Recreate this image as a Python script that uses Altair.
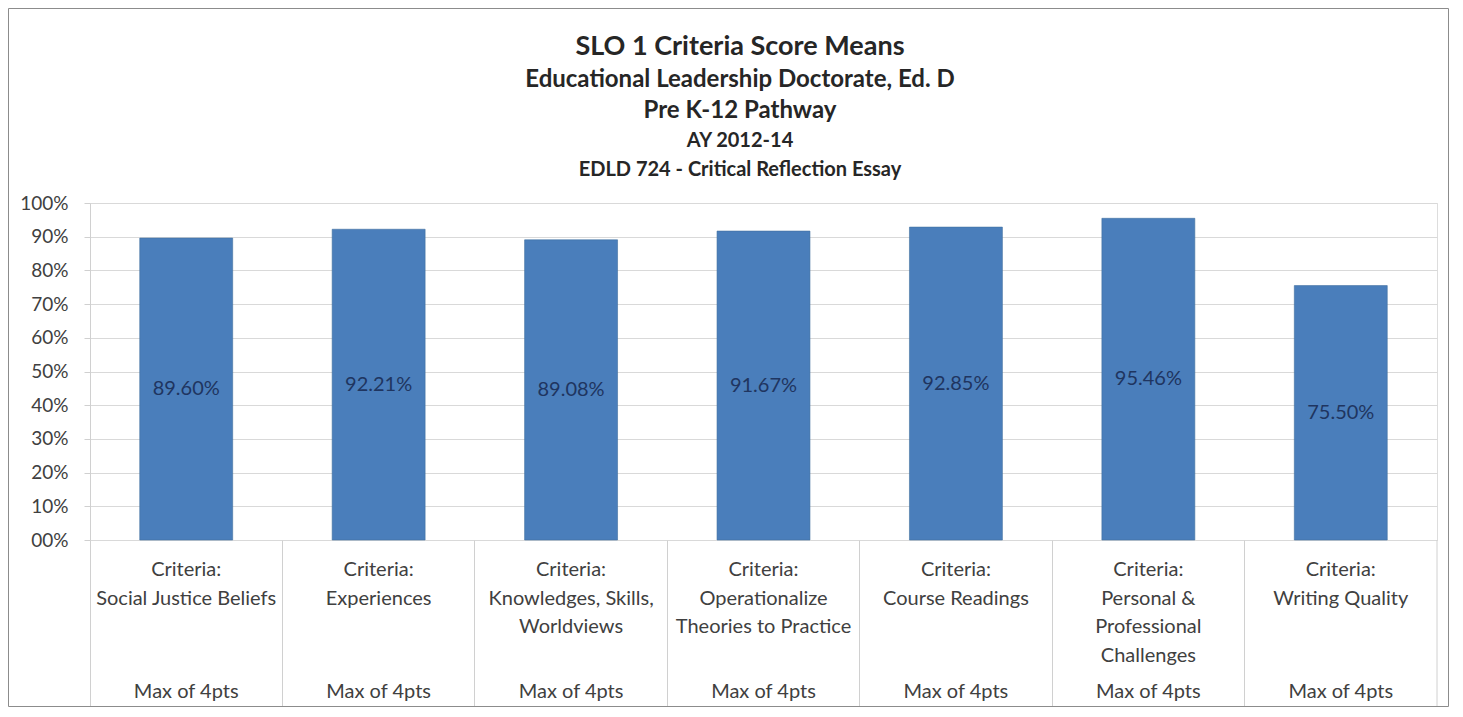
import altair as alt
import pandas as pd

categories = ["Social Justice Beliefs", "Experiences", "Knowledges, Skills, Worldviews",
              "Operationalize Theories to Practice", "Course Readings",
              "Personal & Professional Challenges", "Writing Quality"]
label_lines = [
    "Criteria:\nSocial Justice Beliefs",
    "Criteria:\nExperiences",
    "Criteria:\nKnowledges, Skills,\nWorldviews",
    "Criteria:\nOperationalize\nTheories to Practice",
    "Criteria:\nCourse Readings",
    "Criteria:\nPersonal &\nProfessional\nChallenges",
    "Criteria:\nWriting Quality",
]
max_label = ["Max of 4pts"] * 7
values = [0.8960, 0.9221, 0.8908, 0.9167, 0.9285, 0.9546, 0.7550]
y_ticks = [0, 0.1, 0.2, 0.3, 0.4, 0.5, 0.6, 0.7, 0.8, 0.9, 1.0]

title_lines = ["SLO 1 Criteria Score Means",
               "Educational Leadership Doctorate, Ed. D",
               "Pre K-12 Pathway",
               "AY 2012-14",
               "EDLD 724 - Critical Reflection Essay"]
title_sizes = [27, 24, 24, 20, 20]

df = pd.DataFrame({"cat": categories, "label": label_lines, "maxl": max_label, "value": values})

FONT = "Lato"
W, H = 1347, 337
BOTTOM = 167

y_axis = alt.Axis(values=y_ticks,
                  labelExpr="datum.value == 0 ? '00%' : format(datum.value, '.0%')",
                  labelOverlap=False, labelFont=FONT, labelFontSize=19, labelColor="#404040",
                  labelPadding=16, tickSize=6, tickColor="#d0d0d0",
                  domain=True, domainColor="#d0d0d0",
                  grid=True, gridColor="#d9d9d9", gridWidth=1, title=None)
y_scale = alt.Scale(domain=[0, 1], nice=False)

x_axis = alt.Axis(labels=False, domain=False, ticks=True, bandPosition=0,
                  tickSize=BOTTOM, tickColor="#d0d0d0", grid=False, title=None)
x_scale = alt.Scale(paddingInner=0, paddingOuter=0)

bars = alt.Chart(df).mark_bar(width={"band": 0.483}, color="#4a7ebb", stroke="#41709f",
                              strokeWidth=0.6).encode(
    x=alt.X("cat:N", sort=categories, scale=x_scale, axis=x_axis),
    y=alt.Y("value:Q", scale=y_scale, axis=y_axis),
)

bar_labels = alt.Chart(df).transform_calculate(mid="datum.value / 2").mark_text(
    font=FONT, fontSize=20, color="#1f3560", baseline="middle").encode(
    x=alt.X("cat:N", sort=categories, scale=x_scale, axis=x_axis),
    y=alt.Y("mid:Q", scale=y_scale, axis=y_axis),
    text=alt.Text("value:Q", format=".2%"),
)

cat_labels = alt.Chart(df).mark_text(
    font=FONT, fontSize=20, color="#404040", baseline="middle", lineBreak="\n",
    lineHeight=28.5).encode(
    x=alt.X("cat:N", sort=categories, scale=x_scale, axis=x_axis),
    y=alt.value(H + 30),
    text="label:N",
)

max_labels = alt.Chart(df).mark_text(
    font=FONT, fontSize=20, color="#404040", baseline="middle").encode(
    x=alt.X("cat:N", sort=categories, scale=x_scale, axis=x_axis),
    y=alt.value(H + 152),
    text="maxl:N",
)

one = pd.DataFrame({"k": [0]})
right_edge = alt.Chart(one).mark_rule(color="#d0d0d0").encode(
    x=alt.value(W), y=alt.value(H), y2=alt.value(H + BOTTOM))

border = alt.Chart(one).mark_rect(
    fillOpacity=0, stroke="#8c8c8c", strokeWidth=1).encode(
    x=alt.value(-81.5), x2=alt.value(W + 11.5), y=alt.value(-194.5),
    y2=alt.value(H + BOTTOM - 0.5))

title_y = [-156, -123, -92, -62, -33]
title_layers = []
for txt, fs, ty in zip(title_lines, title_sizes, title_y):
    title_layers.append(
        alt.Chart(pd.DataFrame({"t": [txt]})).mark_text(
            font=FONT, fontSize=fs, fontWeight="bold", color="#262626",
            baseline="middle", align="center").encode(
            x=alt.value(650), y=alt.value(ty), text="t:N"))

chart = alt.layer(bars, bar_labels, cat_labels, max_labels, right_edge, border,
                  *title_layers).properties(
    width=W, height=H,
    padding={"left": 82, "top": 195, "right": 12, "bottom": BOTTOM},
    autosize=alt.AutoSizeParams(type="none"),
).configure_view(stroke=None).configure(background="white")

chart.save("out.html", embed_options={"renderer": "svg", "actions": False})
